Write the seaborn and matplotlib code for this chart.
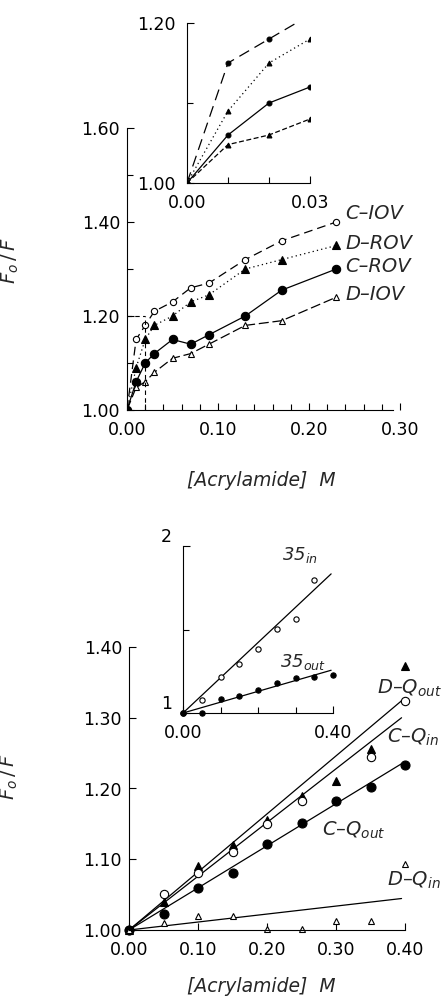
import matplotlib
matplotlib.use("Agg")
import matplotlib.pyplot as plt
import seaborn as sns
from matplotlib.ticker import MultipleLocator, FormatStrFormatter

# ---- top panel: vesicles ----
conc_top = [0.00, 0.01, 0.02, 0.03, 0.05, 0.07, 0.09, 0.13, 0.17, 0.23]
c_iov = [1.00, 1.15, 1.18, 1.21, 1.23, 1.26, 1.27, 1.32, 1.36, 1.40]
d_rov = [1.00, 1.09, 1.15, 1.18, 1.20, 1.23, 1.245, 1.30, 1.32, 1.35]
c_rov = [1.00, 1.06, 1.10, 1.12, 1.15, 1.14, 1.16, 1.20, 1.255, 1.30]
d_iov = [1.00, 1.048, 1.06, 1.08, 1.11, 1.12, 1.14, 1.18, 1.19, 1.24]
n_inset = 4  # inset shows the first points (0 - 0.03 M)

# ---- bottom panel: quenching ----
conc_bot = [0.00, 0.05, 0.10, 0.15, 0.20, 0.25, 0.30, 0.35, 0.40]
d_qout = [1.00, 1.04, 1.09, 1.12, 1.155, 1.19, 1.21, 1.256, 1.373]
c_qout = [1.00, 1.022, 1.06, 1.081, 1.121, 1.151, 1.183, 1.2025, 1.233]
d_qin = [1.00, 1.01, 1.02, 1.02, 1.001, 1.001, 1.013, 1.013, 1.093]
conc_cqin = [0.00, 0.05, 0.10, 0.15, 0.20, 0.25, 0.35, 0.40]
c_qin = [1.00, 1.051, 1.081, 1.11, 1.15, 1.183, 1.245, 1.324]

# fitted lines (end points)
fit_x = [0.0, 0.395]
fit_d_qout = [1.0, 1.324]
fit_c_qin = [1.0, 1.300]
fit_c_qout = [1.0, 1.235]
fit_d_qin = [1.0, 1.0445]

# bottom inset
conc_35out = [0.00, 0.05, 0.10, 0.15, 0.20, 0.25, 0.30, 0.35, 0.40]
q35_out = [1.00, 1.00, 1.081, 1.104, 1.138, 1.179, 1.209, 1.218, 1.228]
conc_35in = [0.00, 0.05, 0.10, 0.15, 0.20, 0.25, 0.30, 0.35]
q35_in = [1.00, 1.075, 1.213, 1.295, 1.386, 1.502, 1.563, 1.797]
fit35_x = [0.0, 0.395]
fit35_in = [1.0, 1.833]
fit35_out = [1.0, 1.256]

sns.set_style("ticks")
plt.rcParams['font.family'] = ['DejaVu Sans']
plt.rcParams['mathtext.fontset'] = 'dejavusans'

fig = plt.figure(figsize=(4.45, 10.05), dpi=100)
W, H = 445.0, 1005.0


def add_axes(x0, x1, y0, y1):
    # pixel box -> figure fraction
    return fig.add_axes([x0 / W, 1 - y0 / H, (x1 - x0) / W, (y0 - y1) / H])


def style(ax, fs=12.5, xpad=8, ypad=5):
    sns.despine(ax=ax)
    for s in ['left', 'bottom']:
        ax.spines[s].set_linewidth(0.8)
        ax.spines[s].set_color('black')
    ax.tick_params(which='both', direction='in', width=0.8, colors='black', labelsize=fs)
    ax.tick_params(which='major', length=5)
    ax.tick_params(which='minor', length=4)
    ax.tick_params(axis='x', pad=xpad)
    ax.tick_params(axis='y', pad=ypad)
    ax.set_xlabel('')
    ax.set_ylabel('')


def series(ax, x, y, ls, marker, ms, filled=True):
    sns.lineplot(x=x, y=y, ax=ax, color='black', lw=0.9, linestyle=ls,
                 marker=marker, markersize=ms,
                 markerfacecolor='black' if filled else 'white',
                 markeredgecolor='black', markeredgewidth=0.8)


# ================= TOP MAIN =================
ax1 = add_axes(127, 400, 410, 128)
series(ax1, conc_top, c_iov, (0, (7, 4)), 'o', 4.5, filled=False)
series(ax1, conc_top, d_rov, (0, (1, 2.5)), '^', 5.5)
series(ax1, conc_top, c_rov, '-', 'o', 6)
series(ax1, conc_top, d_iov, (0, (8, 3)), '^', 5, filled=False)
# dashed box showing the inset region
ax1.plot([0.0, 0.02], [1.20, 1.20], color='black', lw=0.8, ls=(0, (4, 3)))
ax1.plot([0.02, 0.02], [1.00, 1.20], color='black', lw=0.8, ls=(0, (4, 3)))
ax1.set_xlim(0, 0.30)
ax1.set_ylim(1.0, 1.6)
style(ax1)
ax1.spines['bottom'].set_bounds(0, 0.292)
ax1.xaxis.set_major_locator(MultipleLocator(0.1))
ax1.xaxis.set_minor_locator(MultipleLocator(0.02))
ax1.yaxis.set_major_locator(MultipleLocator(0.2))
ax1.yaxis.set_minor_locator(MultipleLocator(0.1))
ax1.xaxis.set_major_formatter(FormatStrFormatter('%.2f'))
ax1.yaxis.set_major_formatter(FormatStrFormatter('%.2f'))
ax1.set_ylabel(r'$F_o\,/\,F$', fontsize=14)
ax1.yaxis.set_label_coords(-0.39, 0.53)
ax1.set_xlabel('[Acrylamide]  M', fontsize=13.5, style='italic')
ax1.xaxis.set_label_coords(0.49, -0.215)
for txt, yy in [('C–IOV', 1.419), ('D–ROV', 1.355), ('C–ROV', 1.306), ('D–IOV', 1.245)]:
    ax1.text(0.240, yy, txt, fontsize=14, style='italic', ha='left', va='center')

# ================= TOP INSET =================
ax2 = add_axes(187, 310, 183, 23)
series(ax2, conc_top[:n_inset], c_iov[:n_inset], (0, (9, 5)), 'o', 3.5)
series(ax2, conc_top[:n_inset], d_rov[:n_inset], (0, (1, 2.5)), '^', 3.5)
series(ax2, conc_top[:n_inset], c_rov[:n_inset], '-', 'o', 3.5)
series(ax2, conc_top[:n_inset], d_iov[:n_inset], (0, (4, 2)), '^', 3.5)
ax2.set_xlim(0, 0.03)
ax2.set_ylim(1.0, 1.2)
style(ax2, xpad=8, ypad=8)
ax2.set_facecolor('white')
ax2.xaxis.set_major_locator(MultipleLocator(0.03))
ax2.xaxis.set_minor_locator(MultipleLocator(0.01))
ax2.yaxis.set_major_locator(MultipleLocator(0.2))
ax2.yaxis.set_minor_locator(MultipleLocator(0.1))
ax2.xaxis.set_major_formatter(FormatStrFormatter('%.2f'))
ax2.yaxis.set_major_formatter(FormatStrFormatter('%.2f'))

# ================= BOTTOM MAIN =================
ax3 = add_axes(129, 405, 930, 647)
for fy in [fit_d_qout, fit_c_qin, fit_c_qout, fit_d_qin]:
    sns.lineplot(x=fit_x, y=fy, ax=ax3, color='black', lw=0.9)
series(ax3, conc_bot, d_qout, 'none', '^', 5.5)
series(ax3, conc_cqin, c_qin, 'none', 'o', 6, filled=False)
series(ax3, conc_bot, c_qout, 'none', 'o', 6.5)
series(ax3, conc_bot, d_qin, 'none', '^', 5, filled=False)
ax3.set_xlim(0, 0.40)
ax3.set_ylim(1.0, 1.4)
style(ax3)
ax3.xaxis.set_major_locator(MultipleLocator(0.1))
ax3.yaxis.set_major_locator(MultipleLocator(0.1))
ax3.xaxis.set_major_formatter(FormatStrFormatter('%.2f'))
ax3.yaxis.set_major_formatter(FormatStrFormatter('%.2f'))
for coll in ax3.lines:
    coll.set_clip_on(False)
ax3.set_ylabel(r'$F_o\,/\,F$', fontsize=14)
ax3.yaxis.set_label_coords(-0.395, 0.54)
ax3.set_xlabel('[Acrylamide]  M', fontsize=13.5, style='italic')
ax3.xaxis.set_label_coords(0.48, -0.165)
for txt, xx, yy in [('D–Q$_{out}$', 0.359, 1.341), ('C–Q$_{in}$', 0.374, 1.273),
                    ('C–Q$_{out}$', 0.280, 1.141), ('D–Q$_{in}$', 0.374, 1.070)]:
    ax3.text(xx, yy, txt, fontsize=14, style='italic', ha='left', va='center')

# ================= BOTTOM INSET =================
ax4 = add_axes(183, 333, 713, 546)
sns.lineplot(x=fit35_x, y=fit35_in, ax=ax4, color='black', lw=0.9)
sns.lineplot(x=fit35_x, y=fit35_out, ax=ax4, color='black', lw=0.9)
series(ax4, conc_35in, q35_in, 'none', 'o', 3.8, filled=False)
series(ax4, conc_35out, q35_out, 'none', 'o', 3.8)
ax4.set_xlim(0, 0.40)
ax4.set_ylim(1.0, 2.0)
style(ax4, xpad=8, ypad=8)
ax4.set_facecolor('white')
ax4.xaxis.set_major_locator(MultipleLocator(0.4))
ax4.xaxis.set_minor_locator(MultipleLocator(0.1))
ax4.yaxis.set_major_locator(MultipleLocator(1))
ax4.yaxis.set_minor_locator(MultipleLocator(0.5))
ax4.xaxis.set_major_formatter(FormatStrFormatter('%.2f'))
ax4.yaxis.set_major_formatter(FormatStrFormatter('%d'))
for lbl in ax4.get_yticklabels():
    lbl.set_verticalalignment('bottom')
for coll in ax4.lines:
    coll.set_clip_on(False)
ax4.text(0.264, 1.946, '35$_{in}$', fontsize=13, style='italic', ha='left', va='center')
ax4.text(0.259, 1.305, '35$_{out}$', fontsize=13, style='italic', ha='left', va='center')

fig.savefig('out.png', dpi=100)
